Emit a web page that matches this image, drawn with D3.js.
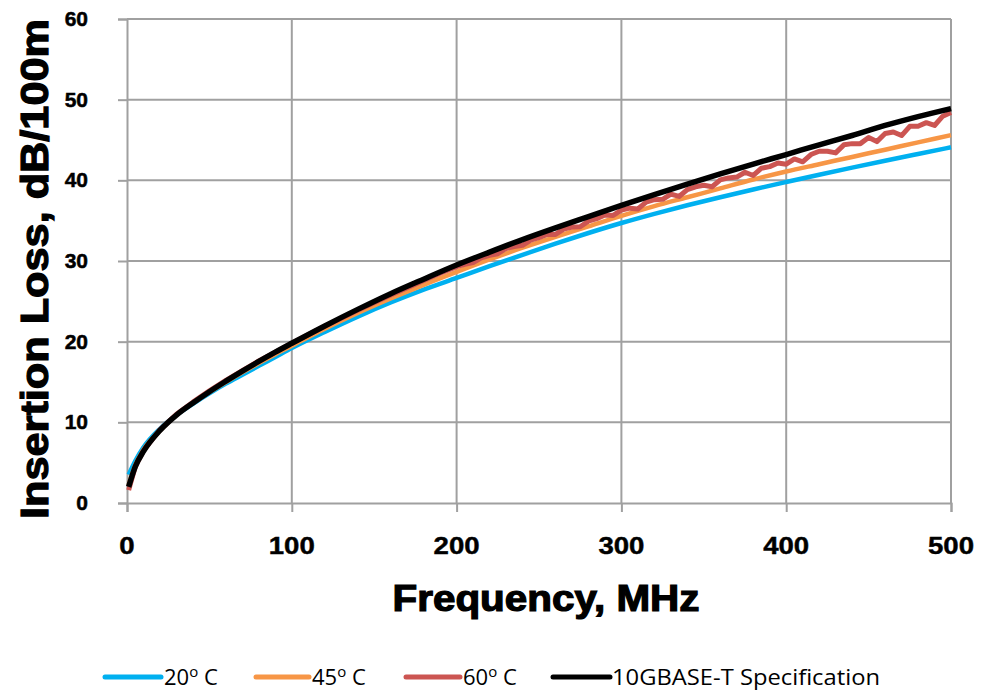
<!DOCTYPE html>
<html>
<head>
<meta charset="utf-8">
<script src="https://cdn.jsdelivr.net/npm/d3@7"></script>
<style>
  html, body { margin: 0; padding: 0; background: #ffffff; }
  svg { display: block; }
</style>
</head>
<body>
<svg id="chart" width="981" height="693"></svg>
<script>
// ---------- data ----------
const freq = [1, 5, 10, 20, 30, 40, 50, 60, 70, 80, 90, 100, 120, 140, 160, 180, 200,
              220, 240, 260, 280, 300, 320, 340, 360, 380, 400, 420, 440, 460, 480, 500];

const loss20C = [3.5, 5.2, 6.9, 9.2, 10.9, 12.3, 13.6, 14.8, 15.9, 17.0, 18.1, 19.2, 21.2, 23.1, 24.85, 26.45, 27.9,
                 29.35, 30.77, 32.15, 33.47, 34.71, 35.85, 36.91, 37.91, 38.87, 39.79, 40.69, 41.57, 42.43, 43.27, 44.1];

const loss45C = [2.2, 4.7, 6.6, 9.0, 10.9, 12.4, 13.75, 15.0, 16.2, 17.35, 18.45, 19.5, 21.6, 23.55, 25.35, 27.05, 28.65,
                 30.2, 31.65, 33.0, 34.3, 35.6, 36.8, 37.9, 39.0, 40.1, 41.1, 42.0, 42.9, 43.8, 44.7, 45.6];

const spec10G = [2.0, 4.5, 6.4, 9.0, 10.9, 12.4, 13.8, 15.1, 16.35, 17.55, 18.7, 19.8, 21.95, 24.0, 25.95, 27.75, 29.5,
                 31.1, 32.65, 34.1, 35.5, 36.9, 38.24, 39.54, 40.8, 42.02, 43.2, 44.4, 45.56, 46.8, 47.9, 48.9];

const freq60C = [1, 5, 10, 20, 30, 40, 50, 60, 70, 80, 90, 100, 120, 140, 160, 180, 190,
  200, 205, 210, 215, 220, 225, 230, 235, 240, 245, 250, 255, 260, 265, 270, 275, 280, 285, 290, 295,
  300, 305, 310, 315, 320, 325, 330, 335, 340, 345, 350, 355, 360, 365, 370, 375, 380, 385, 390, 395,
  400, 405, 410, 415, 420, 425, 430, 435, 440, 445, 450, 455, 460, 465, 470, 475, 480, 485, 490, 495, 500];
const loss60C = [1.6, 4.5, 6.5, 9.1, 11.0, 12.5, 13.9, 15.2, 16.4, 17.6, 18.7, 19.8, 21.9, 23.9, 25.8, 27.6, 28.5,
  29.3, 29.6, 29.8, 30.4, 30.7, 30.9, 31.55, 31.8, 31.95, 32.6, 32.9, 33.3, 33.3, 33.95, 34.2, 34.25, 34.95, 35.25, 35.7, 35.65,
  36.3, 36.55, 36.45, 37.3, 37.6, 37.65, 38.3, 38.0, 38.85, 39.2, 39.4, 39.2, 40.05, 40.3, 40.4, 41.0, 40.6, 41.5, 41.7, 42.15,
  42.0, 42.65, 42.3, 43.2, 43.6, 43.6, 43.4, 44.4, 44.55, 44.55, 45.3, 44.8, 45.8, 46.0, 45.55, 46.7, 46.7, 47.15, 46.8, 47.95, 48.4];

const xTicks = [0, 100, 200, 300, 400, 500];
const yTicks = [0, 10, 20, 30, 40, 50, 60];

const seriesNames = ["20", "45", "60", "10GBASE-T Specification"];
const seriesColors = ["#00b0f0", "#f79646", "#cc5552", "#000000"];

// ---------- chart ----------
const svg = d3.select("#chart");
const plot = { left: 127, right: 951, top: 19, bottom: 503 };

const x = d3.scaleLinear().domain([0, 500]).range([plot.left, plot.right]);
const y = d3.scaleLinear().domain([0, 60]).range([plot.bottom, plot.top]);

const gridColor = "#a0a0a0";
const boldFont = "'Liberation Sans', Arial, sans-serif";

// gridlines
const grid = svg.append("g");
grid.selectAll("line.h").data(yTicks.filter(d => d > 0)).enter().append("line")
  .attr("x1", plot.left).attr("x2", plot.right)
  .attr("y1", d => y(d)).attr("y2", d => y(d))
  .attr("stroke", gridColor).attr("stroke-width", 2);
grid.selectAll("line.v").data(xTicks.filter(d => d > 0)).enter().append("line")
  .attr("x1", d => x(d)).attr("x2", d => x(d))
  .attr("y1", plot.top).attr("y2", plot.bottom)
  .attr("stroke", gridColor).attr("stroke-width", 2);

// axes
const xAxis = d3.axisBottom(x).tickValues(xTicks).tickSize(9).tickFormat("");
const yAxis = d3.axisLeft(y).tickValues(yTicks).tickSize(9).tickFormat("");
const gx = svg.append("g").attr("transform", `translate(0,${plot.bottom})`).call(xAxis);
const gy = svg.append("g").attr("transform", `translate(${plot.left},0)`).call(yAxis);
[gx, gy].forEach(g => {
  g.select(".domain").attr("stroke", gridColor).attr("stroke-width", 2);
  g.selectAll(".tick line").attr("stroke", gridColor).attr("stroke-width", 2);
});

// tick labels
svg.append("g").selectAll("text").data(xTicks).enter().append("text")
  .attr("transform", d => `translate(${x(d)},554) scale(1.2,1)`)
  .attr("text-anchor", "middle")
  .attr("font-family", boldFont)
  .attr("font-weight", "bold").attr("font-size", 23)
  .attr("fill", "#000").attr("stroke", "#000").attr("stroke-width", 0.4)
  .text(d => d);

svg.append("g").selectAll("text").data(yTicks).enter().append("text")
  .attr("x", 88).attr("y", d => y(d) + 7)
  .attr("text-anchor", "end")
  .attr("font-family", boldFont)
  .attr("font-weight", "bold").attr("font-size", 21)
  .attr("fill", "#000").attr("stroke", "#000").attr("stroke-width", 0.5)
  .text(d => d);

// axis titles
svg.append("text")
  .attr("x", 546).attr("y", 611)
  .attr("text-anchor", "middle")
  .attr("font-family", boldFont)
  .attr("font-weight", "bold").attr("font-size", 36)
  .attr("textLength", 307).attr("lengthAdjust", "spacingAndGlyphs")
  .attr("fill", "#000").attr("stroke", "#000").attr("stroke-width", 1.2)
  .text("Frequency, MHz");

svg.append("text")
  .attr("transform", "translate(48,269) rotate(-90)")
  .attr("text-anchor", "middle")
  .attr("font-family", boldFont)
  .attr("font-weight", "bold").attr("font-size", 38)
  .attr("textLength", 500).attr("lengthAdjust", "spacingAndGlyphs")
  .attr("fill", "#000").attr("stroke", "#000").attr("stroke-width", 1.2)
  .text("Insertion Loss, dB/100m");

// lines
const smooth = d3.line().x(d => x(d[0])).y(d => y(d[1])).curve(d3.curveMonotoneX);
const jagged = d3.line().x(d => x(d[0])).y(d => y(d[1])).curve(d3.curveLinear);
const series = [
  { pts: d3.zip(freq, loss20C), color: seriesColors[0], w: 4.5, gen: smooth },
  { pts: d3.zip(freq, loss45C), color: seriesColors[1], w: 4.5, gen: smooth },
  { pts: d3.zip(freq60C, loss60C), color: seriesColors[2], w: 5, gen: jagged },
  { pts: d3.zip(freq, spec10G), color: seriesColors[3], w: 5.5, gen: smooth }
];
svg.append("clipPath").attr("id", "plotclip").append("rect")
  .attr("x", plot.left - 2).attr("y", plot.top - 5)
  .attr("width", plot.right - plot.left + 4).attr("height", plot.bottom - plot.top + 5);
svg.append("g").attr("clip-path", "url(#plotclip)")
  .selectAll("path").data(series).enter().append("path")
  .attr("d", d => d.gen(d.pts))
  .attr("fill", "none")
  .attr("stroke", d => d.color)
  .attr("stroke-width", d => d.w)
  .attr("stroke-linejoin", "round");

// legend
const legendItems = [
  { x1: 105, x2: 161, tx: 164, deg: true,  label: seriesNames[0], color: seriesColors[0] },
  { x1: 256, x2: 309, tx: 312, deg: true,  label: seriesNames[1], color: seriesColors[1] },
  { x1: 406, x2: 460, tx: 463, deg: true,  label: seriesNames[2], color: seriesColors[2] },
  { x1: 553, x2: 610, tx: 612, deg: false, label: seriesNames[3], color: seriesColors[3] }
];
const lg = svg.append("g");
legendItems.forEach(it => {
  lg.append("line")
    .attr("x1", it.x1).attr("x2", it.x2).attr("y1", 677).attr("y2", 677)
    .attr("stroke", it.color).attr("stroke-width", 5).attr("stroke-linecap", "round");
  const t = lg.append("text")
    .attr("x", it.tx).attr("y", 685)
    .attr("font-family", "'Open Sans', 'Noto Sans', sans-serif")
    .attr("font-size", 22)
    .attr("fill", "#000");
  if (it.deg) {
    t.append("tspan").text(it.label);
    t.append("tspan").attr("font-size", 15).attr("dy", -8).text("o");
    t.append("tspan").attr("dy", 8).text(" C");
  } else {
    t.attr("textLength", 268).attr("lengthAdjust", "spacingAndGlyphs").text(it.label);
  }
});
</script>
</body>
</html>
